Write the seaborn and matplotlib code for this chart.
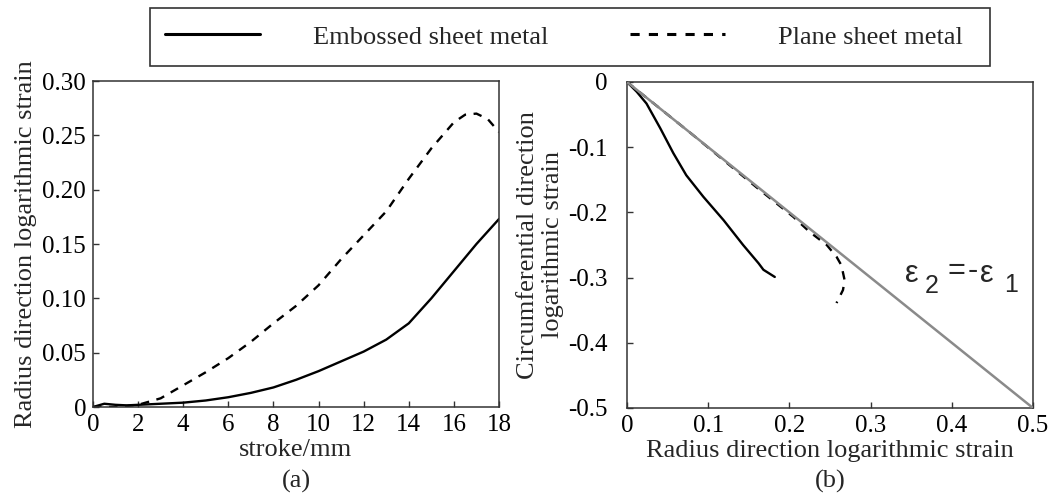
import matplotlib
matplotlib.use("Agg")
import matplotlib.pyplot as plt
from matplotlib.lines import Line2D
from matplotlib.patches import Rectangle
import seaborn as sns
import pandas as pd

# ---- data: panel (a) ----
stroke_emb = [0, 0.5, 1, 1.5, 2, 3, 4, 5, 6, 7, 8, 9, 10, 11, 12, 13, 14, 15, 16, 17, 18]
strain_emb = [0, 0.003, 0.002, 0.0015, 0.002, 0.003, 0.004, 0.006, 0.009, 0.013, 0.018,
              0.025, 0.033, 0.042, 0.051, 0.062, 0.077, 0.100, 0.125, 0.150, 0.173]
stroke_pl = [0, 1, 2, 3, 4, 5, 6, 7, 8, 9, 10, 11, 12, 13, 14, 15, 16, 16.5, 17, 17.5, 18]
strain_pl = [0, 0, 0.002, 0.008, 0.020, 0.032, 0.045, 0.060, 0.077, 0.093, 0.112, 0.136,
             0.158, 0.180, 0.210, 0.238, 0.262, 0.269, 0.270, 0.265, 0.253]

# ---- data: panel (b) ----
rad_emb = [0, 0.012, 0.024, 0.041, 0.057, 0.073, 0.094, 0.119, 0.143, 0.162, 0.168, 0.182]
circ_emb = [0, -0.015, -0.033, -0.071, -0.109, -0.143, -0.176, -0.212, -0.250, -0.278, -0.288, -0.299]
rad_pl = [0, 0.08, 0.16, 0.184, 0.205, 0.225, 0.246, 0.258, 0.264, 0.268, 0.266, 0.258]
circ_pl = [0, -0.08, -0.162, -0.186, -0.207, -0.230, -0.250, -0.268, -0.281, -0.304, -0.319, -0.339]
diag_x = [0, 0.5]
diag_y = [0, -0.5]

xticks_a = [0, 2, 4, 6, 8, 10, 12, 14, 16, 18]
yticks_a = [0, 0.05, 0.10, 0.15, 0.20, 0.25, 0.30]
yticklabels_a = ["0", "0.05", "0.10", "0.15", "0.20", "0.25", "0.30"]
xticks_b = [0, 0.1, 0.2, 0.3, 0.4, 0.5]
xticklabels_b = ["0", "0.1", "0.2", "0.3", "0.4", "0.5"]
yticks_b = [0, -0.1, -0.2, -0.3, -0.4, -0.5]
yticklabels_b = ["0", "-0.1", "-0.2", "-0.3", "-0.4", "-0.5"]

labels = ["Embossed sheet metal", "Plane sheet metal"]

sns.set_theme(style="white")
plt.rcParams["font.family"] = ["Liberation Serif", "DejaVu Serif"]
plt.rcParams["axes.edgecolor"] = "#333333"
plt.rcParams["axes.linewidth"] = 1.1

fig = plt.figure(figsize=(10.6, 4.93), dpi=100)
axa = fig.add_axes([93 / 1060, 1 - 407 / 493, 406 / 1060, 326 / 493])
axb = fig.add_axes([627 / 1060, 1 - 408 / 493, 406 / 1060, 326 / 493])

LW = 1.7
DASH = (3.6, 3.2)

dfa1 = pd.DataFrame({"x": stroke_emb, "y": strain_emb})
dfa2 = pd.DataFrame({"x": stroke_pl, "y": strain_pl})
sns.lineplot(data=dfa1, x="x", y="y", ax=axa, color="black", lw=LW, sort=False, estimator=None)
sns.lineplot(data=dfa2, x="x", y="y", ax=axa, color="black", lw=LW, sort=False, estimator=None,
             linestyle=(0, DASH))

dfb1 = pd.DataFrame({"x": rad_emb, "y": circ_emb})
dfb2 = pd.DataFrame({"x": rad_pl, "y": circ_pl})
dfd = pd.DataFrame({"x": diag_x, "y": diag_y})
sns.lineplot(data=dfb1, x="x", y="y", ax=axb, color="black", lw=LW, sort=False, estimator=None)
sns.lineplot(data=dfb2, x="x", y="y", ax=axb, color="black", lw=LW, sort=False, estimator=None,
             linestyle=(0, DASH))
sns.lineplot(data=dfd, x="x", y="y", ax=axb, color="#8a8a8a", lw=1.8, sort=False, estimator=None,
             zorder=5)

for ax in (axa, axb):
    ax.tick_params(direction="in", length=4, width=1, colors="#333333", labelsize=18,
                   labelcolor="black", pad=5, bottom=True, left=True, top=False, right=False)
    for s in ax.spines.values():
        s.set_visible(True)
axb.tick_params(axis="y", pad=14)

axa.set_xlim(0, 18)
axa.set_ylim(0, 0.30)
axa.set_xticks(xticks_a)
axa.set_xticklabels([str(t) for t in xticks_a])
axa.set_yticks(yticks_a)
axa.set_yticklabels(yticklabels_a)
axa.set_xlabel("stroke/mm", fontsize=19, labelpad=2)
axa.set_ylabel("Radius direction logarithmic strain", fontsize=19, labelpad=4)

axb.set_xlim(0, 0.5)
axb.set_ylim(-0.5, 0)
axb.set_xticks(xticks_b)
axb.set_xticklabels(xticklabels_b)
axb.set_yticks(yticks_b)
axb.set_yticklabels(yticklabels_b)
axb.set_xlabel("Radius direction logarithmic strain", fontsize=19, labelpad=2)
axb.set_ylabel("Circumferential direction\nlogarithmic strain", fontsize=19, labelpad=3,
               linespacing=1.15)

# annotation eps2 = -eps1
sans = ["Liberation Sans", "DejaVu Sans"]
axb.text(0.342, -0.307, "ε", fontsize=22, family=sans, ha="left", va="baseline")
axb.text(0.367, -0.324, "2", fontsize=18, family=sans, ha="left", va="baseline")
axb.text(0.395, -0.290, "=", fontsize=22, family=sans, ha="left", va="center")
axb.text(0.420, -0.290, "-", fontsize=22, family=sans, ha="left", va="center")
axb.text(0.435, -0.307, "ε", fontsize=22, family=sans, ha="left", va="baseline")
axb.text(0.464, -0.322, "1", fontsize=18, family=sans, ha="left", va="baseline")

fig.text(296 / 1060, 1 - 481 / 493, "(a)", fontsize=19, ha="center", va="center")
fig.text(830 / 1060, 1 - 481 / 493, "(b)", fontsize=19, ha="center", va="center")

# legend: frame drawn as a figure rectangle, entries placed inside
fig.patches.append(Rectangle((150 / 1060, 1 - 66 / 493), 840 / 1060, 58 / 493,
                             transform=fig.transFigure, fill=False, edgecolor="#333333",
                             lw=1.2, zorder=10))
handles = [Line2D([], [], color="black", lw=2.2),
           Line2D([], [], color="black", lw=2.2, linestyle=(0, (3.0, 3.0)))]
leg = fig.legend(handles, labels, loc="center left",
                 bbox_to_anchor=(165 / 1060, 1 - 37 / 493),
                 ncol=2, frameon=False, fontsize=19,
                 handlelength=3.6, handletextpad=2.0, borderaxespad=0, borderpad=0,
                 columnspacing=3.1)

fig.savefig("out.png", dpi=100, facecolor="white")
